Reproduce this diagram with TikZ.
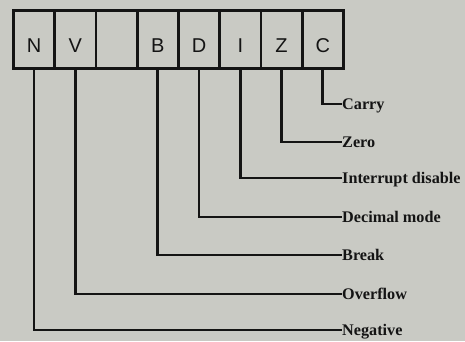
\documentclass[tikz,border=0pt]{standalone}
\usepackage{fontspec}
\setmainfont{Liberation Serif}
\newfontfamily\cellfont{Liberation Sans}
\definecolor{bg}{RGB}{201,202,196}
\definecolor{ink}{RGB}{20,20,20}
\begin{document}
\begin{tikzpicture}[x=1pt,y=-1pt,
  cellbox/.style={draw=ink,line width=2.8pt,minimum width=41.25pt,minimum height=58pt,inner sep=0pt,anchor=north west},
  letter/.style={font=\cellfont\fontsize{20}{20}\selectfont,text=ink,inner sep=0pt},
  flag/.style={font=\bfseries\fontsize{16.2}{16.2}\selectfont,text=ink,anchor=west,text height=10.6pt,text depth=0pt,inner sep=0pt,xshift=1pt},
  wire/.style={draw=ink,line width=2.6pt,line join=miter}]
\fill[bg] (0,0) rectangle (465,341);
\useasboundingbox (0,0) rectangle (465,341);
% cells
\node[cellbox] (cN) at (12,9) {};
\node[cellbox] (cV) at (53.25,9) {};
\node[cellbox] (cE) at (94.5,9) {};
\node[cellbox] (cB) at (135.75,9) {};
\node[cellbox] (cD) at (177,9) {};
\node[cellbox] (cI) at (218.25,9) {};
\node[cellbox] (cZ) at (259.5,9) {};
\node[cellbox] (cC) at (300.75,9) {};
% letters
\node[letter] (tN) at ([yshift=-6]cN.center) {N};
\node[letter] (tV) at ([yshift=-6]cV.center) {V};
\node[letter] (tB) at ([yshift=-6]cB.center) {B};
\node[letter] (tD) at ([yshift=-6]cD.center) {D};
\node[letter] (tI) at ([yshift=-6]cI.center) {I};
\node[letter] (tZ) at ([yshift=-6]cZ.center) {Z};
\node[letter] (tC) at ([yshift=-6]cC.center) {C};
% labels
\node[flag] (lC) at (341,104) {Carry};
\node[flag] (lZ) at (341,142) {Zero};
\node[flag] (lI) at (341,178) {Interrupt disable};
\node[flag] (lD) at (341,217) {Decimal mode};
\node[flag] (lB) at (341,255) {Break};
\node[flag] (lV) at (341,294) {Overflow};
\node[flag] (lN) at (341,330) {Negative};
% wires
\draw[wire] (cC.south) |- (lC.west);
\draw[wire] (cZ.south) |- (lZ.west);
\draw[wire] (cI.south) |- (lI.west);
\draw[wire] (cD.south) |- (lD.west);
\draw[wire] (cB.south) |- (lB.west);
\draw[wire] (cV.south) |- (lV.west);
\draw[wire] (cN.south) |- (lN.west);
\end{tikzpicture}
\end{document}
